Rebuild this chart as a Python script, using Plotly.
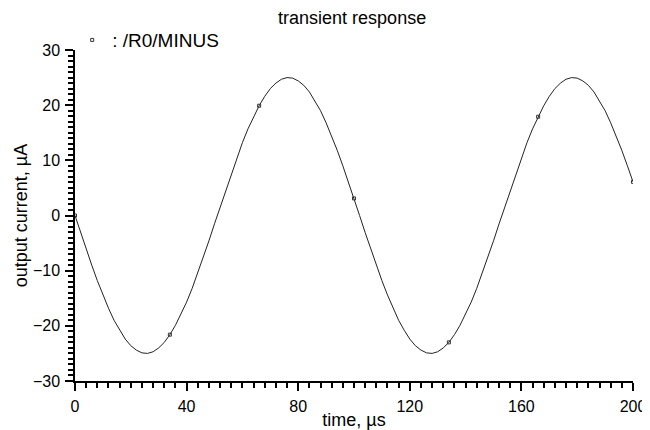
import plotly.graph_objects as go

# time samples (µs), every 2 µs
time_us = list(range(0, 202, 2))

# output current (µA)
current_uA = [
    0.0, -3.1, -6.1, -9.0, -11.8, -14.4, -16.8, -19.0, -20.8, -22.4,
    -23.6, -24.4, -24.9, -25.0, -24.7, -24.0, -23.0, -21.6, -19.9, -17.9,
    -15.7, -13.2, -10.4, -7.6, -4.6, -1.5, 1.5, 4.6, 7.6, 10.4,
    13.2, 15.7, 17.9, 19.9, 21.6, 23.0, 24.0, 24.7, 25.0, 24.9,
    24.4, 23.6, 22.4, 20.8, 19.0, 16.8, 14.4, 11.8, 9.0, 6.1,
    3.1, 0.0, -3.1, -6.1, -9.0, -11.8, -14.4, -16.8, -19.0, -20.8,
    -22.4, -23.6, -24.4, -24.9, -25.0, -24.7, -24.0, -23.0, -21.6, -19.9,
    -17.9, -15.7, -13.2, -10.4, -7.6, -4.6, -1.5, 1.5, 4.6, 7.6,
    10.4, 13.2, 15.7, 17.9, 19.9, 21.6, 23.0, 24.0, 24.7, 25.0,
    24.9, 24.4, 23.6, 22.4, 20.8, 19.0, 16.8, 14.4, 11.8, 9.0,
    6.1,
]

# sample indices carrying the small square markers
marker_idx = [0, 17, 33, 50, 67, 83, 100]

series_name = ": /R0/MINUS"
title_text = "transient response"
x_title = "time, µs"
y_title = "output current, µA"
x_ticks = [0, 40, 80, 120, 160, 200]
y_ticks = [-30, -20, -10, 0, 10, 20, 30]

FONT = "Liberation Sans, Arial, Helvetica, sans-serif"

fig = go.Figure()
fig.add_trace(go.Scatter(
    x=time_us, y=current_uA, mode="lines",
    line=dict(color="#222222", width=1),
    showlegend=False,
))
fig.add_trace(go.Scatter(
    x=[time_us[i] for i in marker_idx],
    y=[current_uA[i] for i in marker_idx],
    mode="markers", name=series_name,
    marker=dict(symbol="square-open", size=3, color="#333333", line=dict(width=1)),
))

axis_common = dict(
    showgrid=False, zeroline=False, showline=True, linecolor="black", linewidth=1.5,
    ticks="outside", ticklen=8, tickwidth=1.5, tickcolor="black",
    tickfont=dict(size=16, color="black", family=FONT),
    mirror=False, automargin=False, ticklabelstandoff=2,
)

# the page body adds an 8 px offset, so the figure is 8 px smaller each way
fig.update_layout(
    width=642, height=422,
    margin=dict(l=67, r=17, t=42, b=49, autoexpand=False),
    paper_bgcolor="white", plot_bgcolor="white",
    font=dict(family=FONT, color="black", size=16),
    title=dict(text=title_text, x=0.536, xanchor="center", y=0.976, yanchor="middle",
               font=dict(size=18, color="black", family=FONT)),
    legend=dict(x=-0.005, y=1.03, xanchor="left", yanchor="middle",
                bgcolor="rgba(0,0,0,0)", font=dict(size=19, color="black", family=FONT),
                itemwidth=30, tracegroupgap=0),
    xaxis=dict(range=[0, 200], tickvals=x_ticks,
               title=dict(text=x_title, font=dict(size=18, family=FONT), standoff=0),
               minor=dict(dtick=4, ticks="outside", ticklen=5, tickwidth=1.5, tickcolor="black"),
               **axis_common),
    yaxis=dict(range=[-30, 30], tickvals=y_ticks,
               title=dict(text=y_title, font=dict(size=18, family=FONT), standoff=1),
               minor=dict(dtick=1, ticks="outside", ticklen=5, tickwidth=1.5, tickcolor="black"),
               **axis_common),
)

fig.write_html("out.html")
